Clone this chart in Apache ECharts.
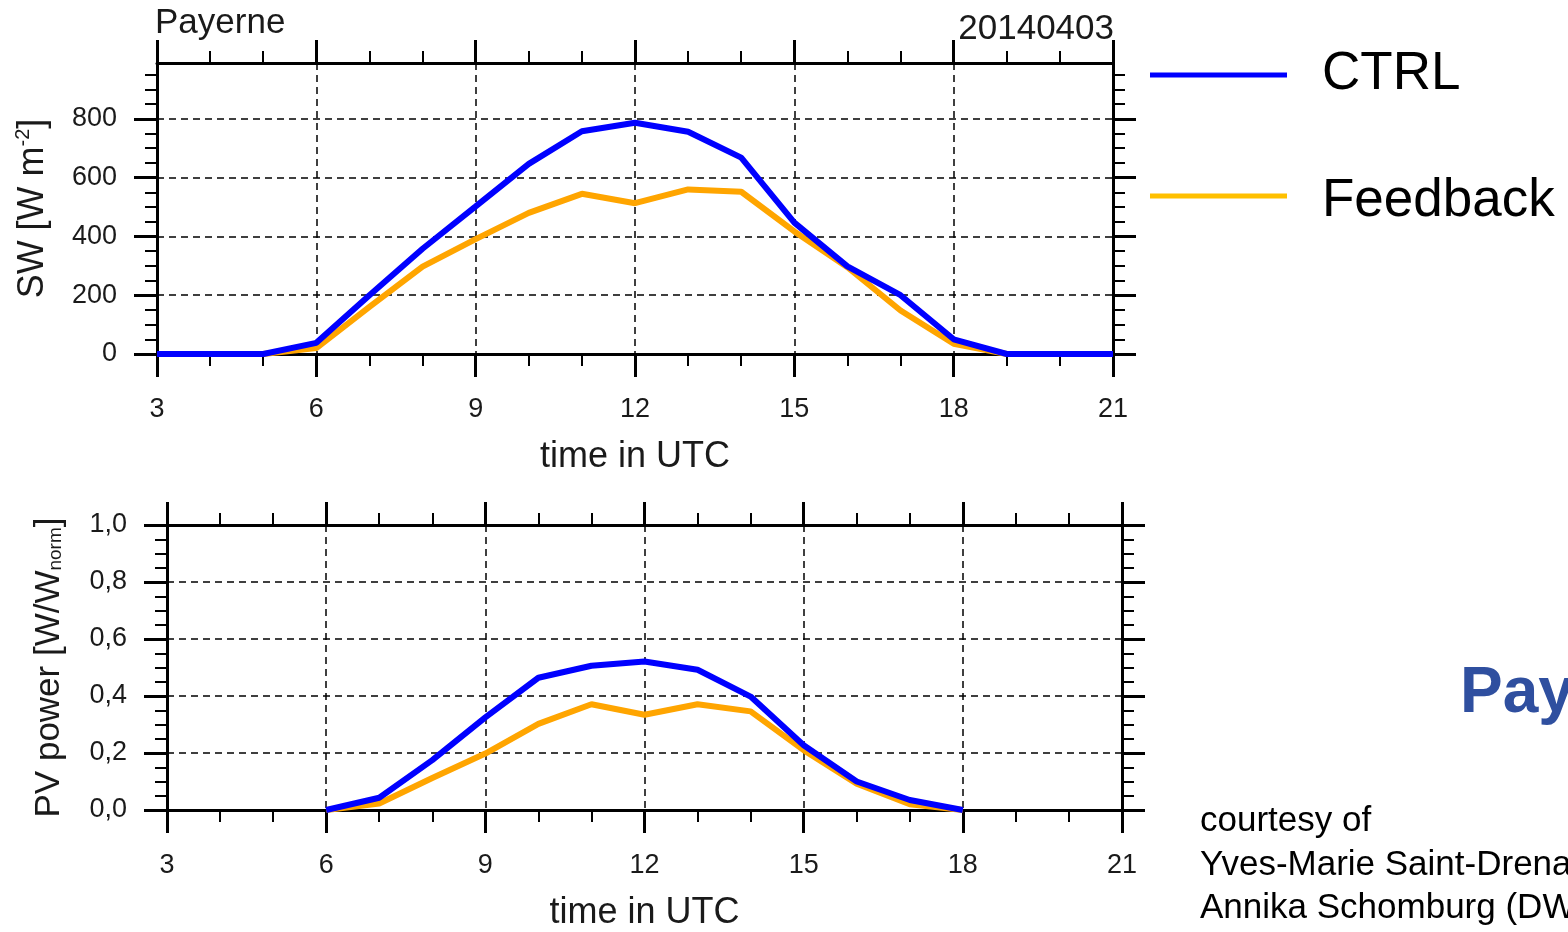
<!DOCTYPE html>
<html>
<head>
<meta charset="utf-8">
<script src="https://cdn.jsdelivr.net/npm/echarts@6/dist/echarts.min.js"></script>
<style>
html,body{margin:0;padding:0;background:#fff;}
#chart{width:1568px;height:932px;}
</style>
</head>
<body>
<div id="chart"></div>
<script>
// ---- data ----
const hoursSW = [3,4,5,6,7,8,9,10,11,12,13,14,15,16,17,18,19,20,21];
const ctrlSW  = [0,0,0,38,200,358,502,647,758,787,756,668,447,298,200,50,0,0,0];
const fbSW    = [0,0,0,20,160,297,391,480,545,513,560,552,417,295,148,35,0,0,0];
const swTicks = [0,200,400,600,800];

const hoursPV = [6,7,8,9,10,11,12,13,14,15,16,17,18];
const ctrlPV  = [0,0.043,0.175,0.325,0.464,0.506,0.521,0.492,0.398,0.227,0.100,0.035,0];
const fbPV    = [0,0.023,0.112,0.198,0.302,0.371,0.334,0.371,0.346,0.210,0.092,0.020,0];

const seriesNames = ['CTRL','Feedback'];
const lineColors = ['#0000FF','#FFA500'];
const legendColors = ['#0000FF','#FFC000'];

const stationName = 'Payerne';
const dateLabel = '20140403';
const xAxisTitle = 'time in UTC';
const creditLines = ['courtesy of','Yves-Marie Saint-Drenan','Annika Schomburg (DWD)'];

// ---- styles ----
const FONT = 'Liberation Sans, Arial, Helvetica, sans-serif';
const TXT = '#1a1a1a';

function pairs(xs, ys){ return xs.map((x,i)=>[x, ys[i]]); }

const majorTick = {show:true, inside:false, length:23, lineStyle:{color:'#000', width:3}};
function minor(n){ return {show:true, splitNumber:n, length:12, lineStyle:{color:'#000', width:2}}; }
const axisLine = {show:true, onZero:false, lineStyle:{color:'#000', width:3}};
const dashed = {show:true, lineStyle:{color:'#000', width:1.5, type:[7,5]}};

function xAxes(gridIndex){
  return [
    {type:'value', gridIndex, position:'bottom', min:3, max:21, interval:3,
     axisLine, axisTick:majorTick, minorTick:minor(3),
     splitLine:Object.assign({}, dashed),
     axisLabel:{show:true, margin:42, fontSize:27, color:TXT, fontFamily:FONT},
     name:xAxisTitle, nameLocation:'middle', nameGap:85,
     nameTextStyle:{fontSize:36, color:TXT, fontFamily:FONT}},
    {type:'value', gridIndex, position:'top', min:3, max:21, interval:3,
     axisLine, axisTick:majorTick, minorTick:minor(3),
     splitLine:{show:false}, axisLabel:{show:false}}
  ];
}

const swTick = Object.assign({}, majorTick, {customValues: swTicks});

const option = {
  animation:false,
  backgroundColor:'#fff',
  grid:[
    {left:157, top:63, width:956, height:291},
    {left:167, top:525, width:955, height:289}
  ],
  xAxis:[].concat(xAxes(0), xAxes(1)),
  yAxis:[
    {type:'value', gridIndex:0, position:'left', min:0, max:990, interval:200,
     axisLine, axisTick:swTick, minorTick:minor(4),
     splitLine:dashed,
     axisLabel:{margin:40, fontSize:27, color:TXT, fontFamily:FONT, padding:[4,0,0,0],
       formatter:v => (v % 200 === 0 ? String(v) : '')},
     name:'{n|SW [W m}{sup|-2}{n|]}', nameLocation:'middle', nameGap:104,
     nameTextStyle:{color:TXT, fontFamily:FONT,
       rich:{n:{fontSize:36, fontFamily:FONT, color:TXT, lineHeight:40},
             sup:{fontSize:20, fontFamily:FONT, color:TXT, lineHeight:40, verticalAlign:'top', padding:[0,0,16,0]}}}},
    {type:'value', gridIndex:0, position:'right', min:0, max:990, interval:200,
     axisLine, axisTick:swTick, minorTick:minor(4),
     splitLine:{show:false}, axisLabel:{show:false}},
    {type:'value', gridIndex:1, position:'left', min:0, max:1, interval:0.2,
     axisLine, axisTick:majorTick, minorTick:minor(4),
     splitLine:dashed,
     axisLabel:{margin:40, fontSize:27, color:TXT, fontFamily:FONT, padding:[5,0,0,0],
       formatter:v => v.toFixed(1).replace('.', ',')},
     name:'{n|PV power [W/W}{sub|norm}{n|]}', nameLocation:'middle', nameGap:98,
     nameTextStyle:{color:TXT, fontFamily:FONT,
       rich:{n:{fontSize:35, fontFamily:FONT, color:TXT, lineHeight:40},
             sub:{fontSize:19, fontFamily:FONT, color:TXT, lineHeight:40, padding:[13,0,0,0]}}}},
    {type:'value', gridIndex:1, position:'right', min:0, max:1, interval:0.2,
     axisLine, axisTick:majorTick, minorTick:minor(4),
     splitLine:{show:false}, axisLabel:{show:false}}
  ],
  series:[
    {name:seriesNames[0], type:'line', xAxisIndex:0, yAxisIndex:0, data:pairs(hoursSW, ctrlSW),
     symbol:'none', clip:false, z:4, lineStyle:{color:lineColors[0], width:6}, itemStyle:{color:lineColors[0]}},
    {name:seriesNames[1], type:'line', xAxisIndex:0, yAxisIndex:0, data:pairs(hoursSW, fbSW),
     symbol:'none', clip:false, z:3, lineStyle:{color:lineColors[1], width:6}, itemStyle:{color:lineColors[1]}},
    {name:seriesNames[0], type:'line', xAxisIndex:2, yAxisIndex:2, data:pairs(hoursPV, ctrlPV),
     symbol:'none', clip:false, z:4, lineStyle:{color:lineColors[0], width:6}, itemStyle:{color:lineColors[0]}},
    {name:seriesNames[1], type:'line', xAxisIndex:2, yAxisIndex:2, data:pairs(hoursPV, fbPV),
     symbol:'none', clip:false, z:3, lineStyle:{color:lineColors[1], width:6}, itemStyle:{color:lineColors[1]}}
  ],
  graphic:[
    {type:'text', x:155, y:23, style:{text:stationName, fontSize:35, fontFamily:FONT, fill:TXT, align:'left', verticalAlign:'middle'}},
    {type:'text', x:1114, y:29, style:{text:dateLabel, fontSize:35, fontFamily:FONT, fill:TXT, align:'right', verticalAlign:'middle'}},
    {type:'line', shape:{x1:1150, y1:75, x2:1287, y2:75}, style:{stroke:legendColors[0], lineWidth:5}},
    {type:'text', x:1322, y:74, style:{text:seriesNames[0], fontSize:53, fontFamily:FONT, fill:'#000', align:'left', verticalAlign:'middle'}},
    {type:'line', shape:{x1:1150, y1:196, x2:1287, y2:196}, style:{stroke:legendColors[1], lineWidth:5}},
    {type:'text', x:1322, y:201, style:{text:seriesNames[1], fontSize:53, fontFamily:FONT, fill:'#000', align:'left', verticalAlign:'middle'}},
    {type:'text', x:1460, y:694, style:{text:stationName, fontSize:64, fontWeight:'bold', fontFamily:FONT, fill:'#2F4F9F', align:'left', verticalAlign:'middle'}},
    {type:'text', x:1200, y:821, style:{text:creditLines[0], fontSize:35, fontFamily:FONT, fill:'#000', align:'left', verticalAlign:'middle'}},
    {type:'text', x:1200, y:865, style:{text:creditLines[1], fontSize:35, fontFamily:FONT, fill:'#000', align:'left', verticalAlign:'middle'}},
    {type:'text', x:1200, y:908, style:{text:creditLines[2], fontSize:35, fontFamily:FONT, fill:'#000', align:'left', verticalAlign:'middle'}}
  ]
};

const chart = echarts.init(document.getElementById('chart'), null, {renderer:'canvas'});
chart.setOption(option);
</script>
</body>
</html>
